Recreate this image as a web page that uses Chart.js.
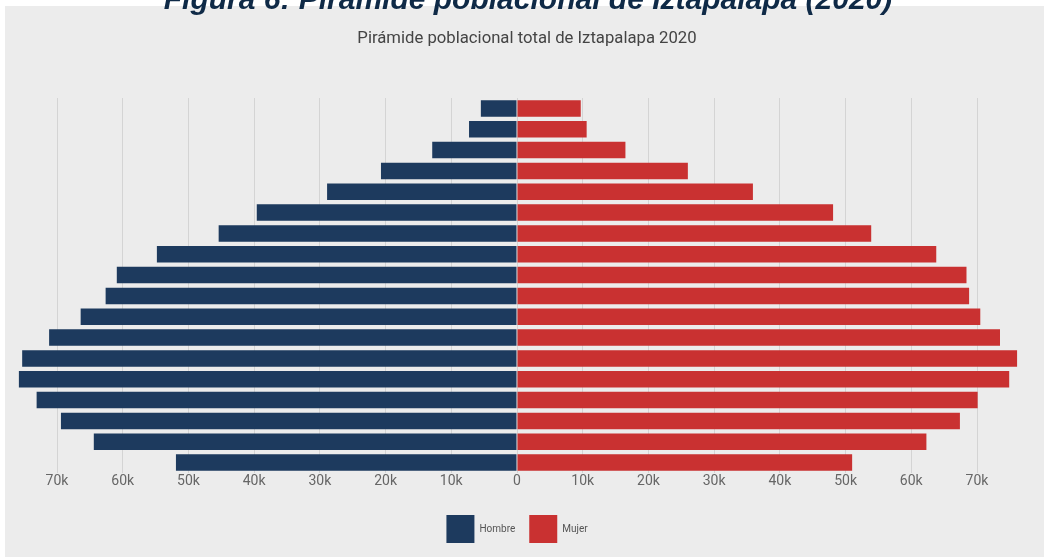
<!DOCTYPE html>
<html>
<head>
<meta charset="utf-8">
<script src="https://cdn.jsdelivr.net/npm/chart.js@4.4.1/dist/chart.umd.min.js"></script>
<style>
  html, body { margin: 0; padding: 0; background: #ffffff; width: 1044px; height: 557px; overflow: hidden; }
  #panel { position: absolute; left: 5px; top: 6px; right: 0; bottom: 0; background: #ececec; }
  #wrap { position: absolute; left: 0; top: 0; width: 1044px; height: 557px; }
  #fig { position: absolute; left: 0; top: -16px; width: 1056px; text-align: center;
         font: italic bold 30px 'Liberation Sans', Arial, sans-serif; line-height: 30px; color: #0f2a47; z-index: 5; white-space: nowrap; }
  #sub { position: absolute; left: 0; top: 28px; width: 1054px; text-align: center;
         font: 16.7px Roboto, 'Liberation Sans', sans-serif; line-height: 20px; color: #444444; z-index: 5; white-space: nowrap; }
</style>
</head>
<body>
<div id="panel"></div>
<div id="fig">Figura 6: Pirámide poblacional de Iztapalapa (2020)</div>
<div id="sub">Pirámide poblacional total de Iztapalapa 2020</div>
<div id="wrap"><canvas id="c" width="1044" height="557"></canvas></div>
<script>
// Age groups, bottom (youngest) to top (oldest)
const ageGroups = ['0-4','5-9','10-14','15-19','20-24','25-29','30-34','35-39','40-44','45-49',
                   '50-54','55-59','60-64','65-69','70-74','75-79','80-84','85+'];
// Population by sex (persons)
const hombre = [51900, 64400, 69400, 73100, 75800, 75300, 71200, 66400, 62600, 60900,
                54800, 45400, 39600, 28900, 20700, 12900, 7300, 5500];
const mujer  = [51000, 62300, 67400, 70100, 74900, 76100, 73500, 70500, 68800, 68400,
                63800, 53900, 48100, 35900, 26000, 16500, 10600, 9700];
const seriesNames = ['Hombre', 'Mujer'];
// x-axis ticks (left side = Hombre, shown as absolute values)
const tickValues = [-70000, -60000, -50000, -40000, -30000, -20000, -10000, 0,
                    10000, 20000, 30000, 40000, 50000, 60000, 70000];
const tickLabels = ['70k','60k','50k','40k','30k','20k','10k','0',
                    '10k','20k','30k','40k','50k','60k','70k'];

const uiFont = "Roboto, 'Liberation Sans', sans-serif";

new Chart(document.getElementById('c'), {
  type: 'bar',
  data: {
    labels: ageGroups,
    datasets: [
      { label: seriesNames[0], data: hombre.map(v => -v), backgroundColor: '#1d3a5e', borderWidth: 0,
        barPercentage: 0.79, categoryPercentage: 1.0 },
      { label: seriesNames[1], data: mujer, backgroundColor: '#c93131', borderWidth: 0,
        barPercentage: 0.79, categoryPercentage: 1.0 }
    ]
  },
  options: {
    responsive: false,
    animation: false,
    indexAxis: 'y',
    layout: { padding: { left: 11, right: 21, top: 98, bottom: 4 } },
    scales: {
      x: {
        stacked: true,
        min: -77000, max: 77000,
        afterBuildTicks: s => { s.ticks = tickValues.map(v => ({ value: v })); },
        ticks: {
          padding: 0, maxRotation: 0, autoSkip: false,
          color: '#666666', font: { family: uiFont, size: 14 },
          callback: (v, i) => tickLabels[i]
        },
        grid: { color: '#d4d4d4', drawTicks: false },
        border: { display: false },
        afterFit: s => { s.height = 28; }
      },
      y: { stacked: true, reverse: true, display: false }
    },
    plugins: {
      legend: {
        position: 'bottom',
        labels: { boxWidth: 28, boxHeight: 28, padding: 14, color: '#555555', font: { family: uiFont, size: 10 } }
      },
      tooltip: { enabled: false },
      title: { display: false }
    }
  }
});
</script>
</body>
</html>
